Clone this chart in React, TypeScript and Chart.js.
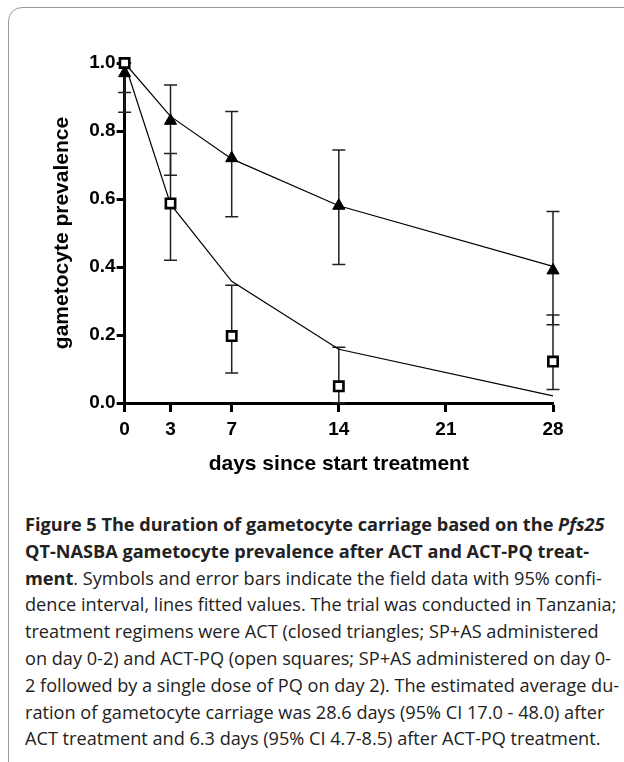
import React, { useEffect, useLayoutEffect, useRef, useState } from "react";
import { Chart, registerables } from "chart.js";

Chart.register(...registerables);

// ---- data ----
const xTickValues = [0, 3, 7, 14, 21, 28];
const yTickValues = [0, 0.2, 0.4, 0.6, 0.8, 1.0];
const days = [0, 3, 7, 14, 28];

// ACT (closed triangles)
const actObserved = [0.97, 0.83, 0.72, 0.58, 0.39];
const actLower = [0.855, 0.67, 0.548, 0.407, 0.23];
const actUpper = [1.0, 0.935, 0.857, 0.744, 0.563];
const actFitted = [1.0, 0.843, 0.718, 0.58, 0.402];

// ACT-PQ (open squares)
const actpqObserved = [1.0, 0.587, 0.197, 0.049, 0.122];
const actpqLower = [0.913, 0.42, 0.088, 0.0, 0.04];
const actpqUpper = [1.0, 0.734, 0.346, 0.164, 0.259];
const actpqFitted = [1.0, 0.585, 0.358, 0.158, 0.021];

const xTitle = "days since start treatment";
const yTitle = "gametocyte prevalence";

const toXY = (ys: number[]) => days.map((d, i) => ({ x: d, y: ys[i] }));

const errorBarPlugin = {
  id: "errorBars",
  beforeDatasetsDraw(chart: any) {
    const { ctx, scales } = chart;
    const x = scales.x;
    const y = scales.y;
    ctx.save();
    ctx.strokeStyle = "#222";
    ctx.lineWidth = 1.5;
    const cap = 6.5;
    const groups: [number[], number[]][] = [
      [actLower, actUpper],
      [actpqLower, actpqUpper],
    ];
    groups.forEach(([lo, hi]) => {
      days.forEach((d, i) => {
        const px = x.getPixelForValue(d);
        const yl = y.getPixelForValue(lo[i]);
        const yh = y.getPixelForValue(hi[i]);
        ctx.beginPath();
        ctx.moveTo(px, yl);
        ctx.lineTo(px, yh);
        ctx.moveTo(px - cap, yl);
        ctx.lineTo(px + cap, yl);
        ctx.moveTo(px - cap, yh);
        ctx.lineTo(px + cap, yh);
        ctx.stroke();
      });
    });
    ctx.restore();
  },
};

const captionLines: React.ReactNode[] = [
  <b key="a">
    Figure 5 The duration of gametocyte carriage based on the <i>Pfs25</i>
  </b>,
  <b key="b">QT-NASBA gametocyte prevalence after ACT and ACT-PQ treat-</b>,
  <span key="c">
    <b>ment</b>. Symbols and error bars indicate the field data with 95% confi-
  </span>,
  "dence interval, lines fitted values. The trial was conducted in Tanzania;",
  "treatment regimens were ACT (closed triangles; SP+AS administered",
  "on day 0-2) and ACT-PQ (open squares; SP+AS administered on day 0-",
  "2 followed by a single dose of PQ on day 2). The estimated average du-",
  "ration of gametocyte carriage was 28.6 days (95% CI 17.0 - 48.0) after",
  "ACT treatment and 6.3 days (95% CI 4.7-8.5) after ACT-PQ treatment.",
];

export default function App() {
  const canvasRef = useRef<HTMLCanvasElement>(null);
  const refLine = useRef<HTMLSpanElement>(null);
  const [scale, setScale] = useState(1);

  useLayoutEffect(() => {
    if (refLine.current) {
      const w = refLine.current.offsetWidth;
      if (w > 0) setScale(591 / w);
    }
  }, []);

  useEffect(() => {
    if (!canvasRef.current) return;
    const tickFont = { family: "'Liberation Sans', Arial, sans-serif", weight: "bold" as const, size: 19 };
    const titleFont = { family: "'Liberation Sans', Arial, sans-serif", weight: "bold" as const, size: 21 };
    const chart = new Chart(canvasRef.current, {
      type: "scatter",
      data: {
        datasets: [
          {
            type: "scatter",
            data: toXY(actpqObserved),
            pointStyle: "rect",
            pointRadius: 6.6,
            pointBackgroundColor: "#fff",
            pointBorderColor: "#000",
            pointBorderWidth: 2.6,
            clip: false,
            order: 0,
          } as any,
          {
            type: "scatter",
            data: toXY(actObserved),
            pointStyle: "triangle",
            pointRadius: 7,
            pointBackgroundColor: "#000",
            pointBorderColor: "#000",
            pointBorderWidth: 1,
            clip: false,
            order: 1,
          } as any,
          {
            type: "line",
            data: toXY(actFitted),
            borderColor: "#000",
            borderWidth: 1.2,
            pointRadius: 0,
            tension: 0,
            fill: false,
            clip: false,
            order: 2,
          } as any,
          {
            type: "line",
            data: toXY(actpqFitted),
            borderColor: "#000",
            borderWidth: 1.2,
            pointRadius: 0,
            tension: 0,
            fill: false,
            clip: false,
            order: 3,
          } as any,
        ],
      },
      options: {
        animation: false,
        responsive: false,
        maintainAspectRatio: false,
        events: [],
        layout: { padding: { left: 50, right: 71, top: 63, bottom: 13 } },
        plugins: { legend: { display: false }, tooltip: { enabled: false } },
        scales: {
          x: {
            type: "linear",
            min: 0,
            max: 28,
            afterBuildTicks: (axis: any) => {
              axis.ticks = xTickValues.map((v) => ({ value: v }));
            },
            ticks: {
              font: tickFont,
              color: "#000",
              padding: 6,
              autoSkip: false,
              maxRotation: 0,
              callback: (v: any) => String(v),
            },
            grid: {
              display: true,
              drawOnChartArea: false,
              drawTicks: true,
              tickLength: 9,
              tickWidth: 3,
              tickColor: "#000",
            },
            border: { display: true, color: "#000", width: 3 },
            title: {
              display: true,
              text: xTitle,
              font: titleFont,
              color: "#000",
              padding: { top: 5, bottom: 0 },
            },
          },
          y: {
            type: "linear",
            min: 0,
            max: 1,
            afterBuildTicks: (axis: any) => {
              axis.ticks = yTickValues.map((v) => ({ value: v }));
            },
            ticks: {
              font: tickFont,
              color: "#000",
              padding: 1,
              callback: (v: any) => Number(v).toFixed(1),
            },
            grid: {
              display: true,
              drawOnChartArea: false,
              drawTicks: true,
              tickLength: 8,
              tickWidth: 3,
              tickColor: "#000",
            },
            border: { display: true, color: "#000", width: 3 },
            title: {
              display: true,
              text: yTitle,
              font: titleFont,
              color: "#000",
              padding: { top: 0, bottom: 13 },
            },
          },
        },
      },
      plugins: [errorBarPlugin],
    });
    return () => chart.destroy();
  }, []);

  return (
    <div style={{ position: "fixed", inset: 0, overflow: "hidden", background: "#fff" }}>
      <div
        style={{
          position: "absolute",
          left: 8,
          top: 7,
          width: 660,
          height: 770,
          border: "1.5px solid #999",
          borderRadius: 14,
          boxSizing: "border-box",
        }}
      />
      <canvas
        ref={canvasRef}
        width={624}
        height={490}
        style={{ position: "absolute", left: 0, top: 0, width: 624, height: 490 }}
      />
      <div
        style={{
          position: "absolute",
          left: 25,
          top: 511,
          fontFamily: "'Open Sans', sans-serif",
          fontSize: 18.6,
          lineHeight: "26.8px",
          color: "#222",
          whiteSpace: "nowrap",
          transform: `scaleX(${scale})`,
          transformOrigin: "left top",
        }}
      >
        {captionLines.map((l, i) => (
          <div key={i}>
            {i === 3 ? (
              <span ref={refLine} style={{ display: "inline-block" }}>
                {l}
              </span>
            ) : (
              l
            )}
          </div>
        ))}
      </div>
    </div>
  );
}
